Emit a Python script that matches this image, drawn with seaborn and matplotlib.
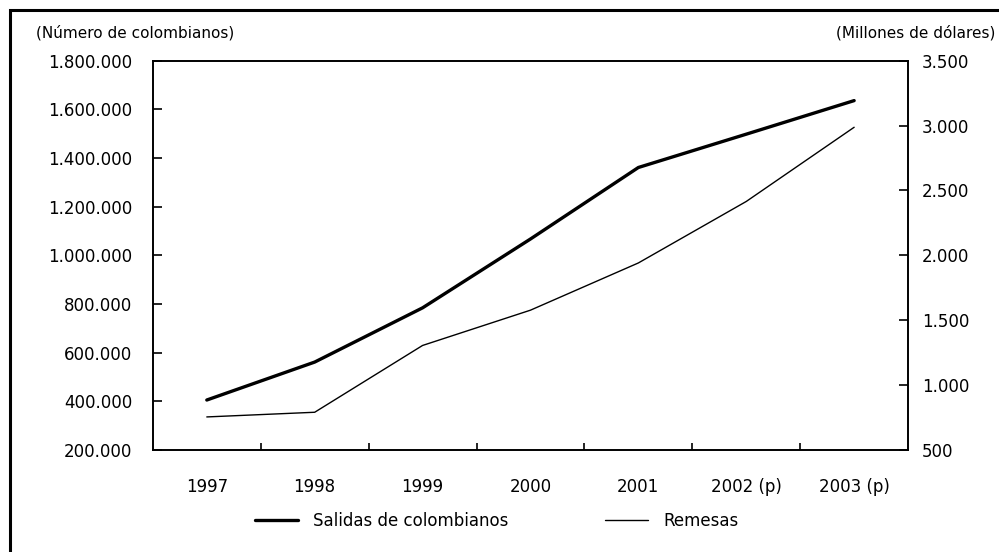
import matplotlib
matplotlib.use("Agg")
import matplotlib.pyplot as plt
import seaborn as sns
import pandas as pd
from matplotlib.patches import Rectangle
from matplotlib.lines import Line2D

# ---- data ----
years = ["1997", "1998", "1999", "2000", "2001", "2002 (p)", "2003 (p)"]
salidas = [405000, 561000, 784000, 1067000, 1361000, 1498000, 1636000]
remesas = [754, 790, 1305, 1577, 1941, 2415, 2987]
left_ticks = [200000, 400000, 600000, 800000, 1000000, 1200000, 1400000, 1600000, 1800000]
right_ticks = [500, 1000, 1500, 2000, 2500, 3000, 3500]
left_title = "(Número de colombianos)"
right_title = "(Millones de dólares)"
series_names = ["Salidas de colombianos", "Remesas"]


def fmt(v):
    return f"{v:,}".replace(",", ".")


sns.set_theme(style="white")
plt.rcParams["font.family"] = ["DejaVu Sans"]
plt.rcParams["text.color"] = "black"

fig = plt.figure(figsize=(9.99, 5.52), dpi=100)
ax = fig.add_axes([0.153, 0.185, 0.756, 0.705])

df = pd.DataFrame({"Año": years, "Salidas": salidas, "Remesas": remesas})

sns.lineplot(data=df, x="Año", y="Salidas", ax=ax, color="black", lw=2.4,
             legend=False, sort=False)
ax2 = ax.twinx()
sns.lineplot(data=df, x="Año", y="Remesas", ax=ax2, color="black", lw=1.0,
             legend=False, sort=False)

ax.set_xlim(-0.5, len(years) - 0.5)
ax.set_ylim(left_ticks[0], left_ticks[-1])
ax2.set_ylim(right_ticks[0], right_ticks[-1])

for a in (ax, ax2):
    a.set_xlabel("")
    a.set_ylabel("")
    for s in a.spines.values():
        s.set_visible(True)
        s.set_color("black")
        s.set_linewidth(1.2)

ax.set_yticks(left_ticks)
ax.set_yticklabels([fmt(v) for v in left_ticks])
ax2.set_yticks(right_ticks)
ax2.set_yticklabels([fmt(v) for v in right_ticks])

ax.set_xticks(range(len(years)))
ax.set_xticklabels(years)
ax.set_xticks([i + 0.5 for i in range(len(years) - 1)], minor=True)

ax.tick_params(axis="y", direction="in", length=6.5, width=1.2, pad=15,
               labelsize=12, colors="black", left=True)
ax.tick_params(axis="x", which="major", length=0, pad=20, labelsize=12,
               colors="black")
ax.tick_params(axis="x", which="minor", direction="in", length=5, width=1.2,
               bottom=True, color="black")
ax2.tick_params(axis="y", direction="in", length=6.5, width=1.2, pad=10,
                labelsize=12, colors="black", right=True)

fig.text(36 / 999, 1 - 33 / 552, left_title, ha="left", va="center", fontsize=11)
fig.text(995 / 999, 1 - 33 / 552, right_title, ha="right", va="center", fontsize=11)

handles = [Line2D([], [], color="black", lw=2.4),
           Line2D([], [], color="black", lw=1.0)]
fig.legend(handles, series_names, loc="center", bbox_to_anchor=(0.497, 1 - 521 / 552),
           ncol=2, frameon=False, fontsize=12, handlelength=2.6,
           handletextpad=0.9, columnspacing=5.8)

fig.patches.append(Rectangle((10 / 999, -0.05), 1.0, 1 - 10 / 552 + 0.05,
                             transform=fig.transFigure, fill=False,
                             lw=2.2, ec="black"))

fig.savefig("out.png", dpi=100)
